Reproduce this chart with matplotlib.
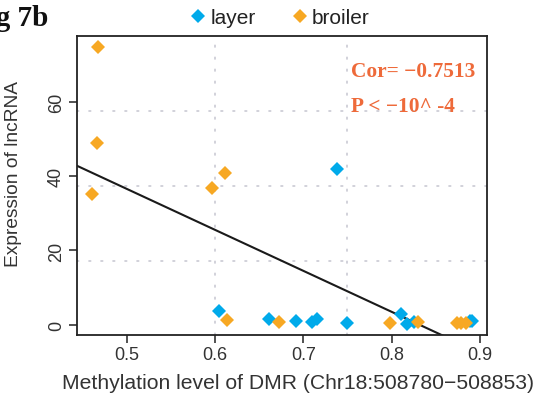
import numpy as np
import matplotlib
matplotlib.use("Agg")
import matplotlib.pyplot as plt

# Methylation level (x) and lncRNA expression (y) per sample
layer_x = [0.604, 0.661, 0.692, 0.710, 0.715, 0.738, 0.750, 0.811, 0.818, 0.825, 0.889, 0.891]
layer_y = [3.6, 1.6, 0.9, 0.7, 1.6, 42.0, 0.45, 3.0, 0.3, 0.7, 0.9, 1.0]
broiler_x = [0.4604, 0.466, 0.4678, 0.597, 0.611, 0.614, 0.672, 0.798, 0.830, 0.874, 0.879, 0.884]
broiler_y = [35.3, 49.0, 74.7, 36.9, 40.8, 1.4, 0.7, 0.5, 0.7, 0.4, 0.5, 0.4]

x_ticks = [0.5, 0.6, 0.7, 0.8, 0.9]
y_ticks = [0, 20, 40, 60]
grid_x = [0.6, 0.75]
grid_y = [17.3, 37.5, 57.7]

cor_text = "Cor= \u22120.7513"
p_text = "P < \u221210^ -4"

blue = "#00AAEA"
orange = "#F7A823"
red_text = "#EE6A3A"
grid_col = "#C9C9D3"

plt.rcParams["font.family"] = ["Liberation Sans", "DejaVu Sans"]

fig = plt.figure(figsize=(5.4, 4.02), dpi=100)
ax = fig.add_axes([0.142, 0.165, 0.760, 0.742])

all_x = np.array(layer_x + broiler_x)
all_y = np.array(layer_y + broiler_y)

# R-style 4% padding around the data range
def padded(v):
    lo, hi = v.min(), v.max()
    r = hi - lo
    return lo - 0.04 * r, hi + 0.04 * r

dot = (0, (1, 6.2))
for gx in grid_x:
    ax.axvline(gx, color=grid_col, lw=1.2, linestyle=dot, dash_capstyle="round", zorder=0)
for gy in grid_y:
    ax.axhline(gy, color=grid_col, lw=1.2, linestyle=dot, dash_capstyle="round", zorder=0)

ax.plot(layer_x, layer_y, "D", color=blue, markersize=7, markeredgewidth=0, label="layer", zorder=3)
ax.plot(broiler_x, broiler_y, "D", color=orange, markersize=7, markeredgewidth=0, label="broiler", zorder=3)

# Least-squares fit line across the full panel
slope, intercept = np.polyfit(all_x, all_y, 1)
xl = np.array(padded(all_x))
ax.plot(xl, intercept + slope * xl, color="#1a1a1a", lw=1.5, zorder=2)
ax.set_xlim(*padded(all_x))
ax.set_ylim(*padded(all_y))

ax.set_xticks(x_ticks)
ax.set_xticklabels([f"{t:g}" for t in x_ticks])
ax.set_yticks(y_ticks)
ax.set_yticklabels([str(t) for t in y_ticks], rotation=90, va="center")
ax.tick_params(axis="both", direction="out", length=5.5, width=1.1, color="#222222",
               labelsize=13, labelcolor="#333333")
ax.tick_params(axis="x", pad=3)
ax.tick_params(axis="y", pad=3)

for s in ax.spines.values():
    s.set_linewidth(1.3)
    s.set_color("#222222")

ax.set_xlabel("Methylation level of DMR (Chr18:508780\u2212508853)", fontsize=15.2, color="#333333")
ax.xaxis.set_label_coords(0.539, -0.13)
ax.set_ylabel("Expression of lncRNA", fontsize=13.8, color="#333333")
ax.yaxis.set_label_coords(-0.133, 0.542)

ax.text(0.668, 0.885, cor_text, transform=ax.transAxes, fontsize=15.4, fontweight="bold",
        family=["Liberation Serif", "DejaVu Serif"], color=red_text, va="center", ha="left")
ax.text(0.668, 0.768, p_text, transform=ax.transAxes, fontsize=15.4, fontweight="bold",
        family=["Liberation Serif", "DejaVu Serif"], color=red_text, va="center", ha="left")

ax.legend(loc="lower center", bbox_to_anchor=(0.485, 1.0), ncol=2, frameon=False,
          fontsize=15, handletextpad=-0.2, columnspacing=1.3, borderaxespad=0.05,
          handlelength=1.6, labelcolor="#222222")

fig.text(-0.056, 0.955, "Fig 7b", fontsize=21, fontweight="bold",
         family=["Liberation Serif", "DejaVu Serif"], color="#111111", va="center", ha="left")

fig.savefig("out.png", dpi=100)
